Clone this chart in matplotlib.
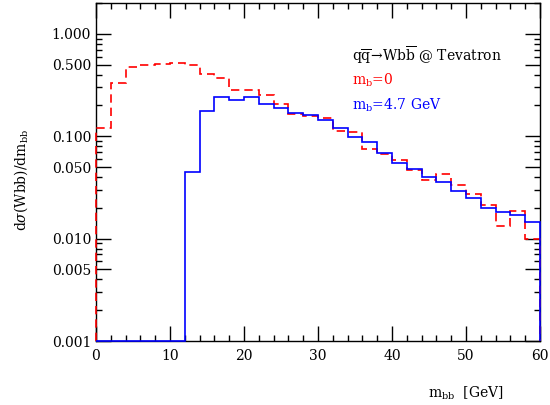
import numpy as np
import matplotlib
matplotlib.use('Agg')
import matplotlib.pyplot as plt
from matplotlib.ticker import FixedLocator, FixedFormatter, MultipleLocator

# bin edges in m_bb [GeV]
bin_edges = np.arange(0, 62, 2)

# m_b = 0 (red dashed)
dsig_mb0 = [0.119, 0.334, 0.479, 0.501, 0.513, 0.524, 0.494, 0.404, 0.371, 0.284,
            0.284, 0.250, 0.208, 0.165, 0.156, 0.151, 0.113, 0.111, 0.0746, 0.0668,
            0.0591, 0.0465, 0.0374, 0.0431, 0.0332, 0.0273, 0.0214, 0.0133, 0.0185, 0.00985]

# m_b = 4.7 GeV (blue solid)
dsig_mb47 = [0, 0, 0, 0, 0, 0, 0.0445, 0.177, 0.239, 0.226,
             0.239, 0.208, 0.189, 0.170, 0.160, 0.144, 0.119, 0.099, 0.0870, 0.069,
             0.0548, 0.0482, 0.0403, 0.0355, 0.0294, 0.0251, 0.0201, 0.0182, 0.0169, 0.0146]

y_major = [0.001, 0.005, 0.01, 0.05, 0.1, 0.5, 1.0]
y_major_labels = ['0.001', '0.005', '0.010', '0.050', '0.100', '0.500', '1.000']
y_minor = [m * d for d in [0.001, 0.01, 0.1, 1.0] for m in [2, 3, 4, 6, 7, 8, 9]]

plt.rcParams['font.family'] = 'DejaVu Serif'
plt.rcParams['mathtext.fontset'] = 'dejavuserif'

YMIN, YMAX = 0.001, 2.0

fig = plt.figure(figsize=(5.5, 4.05), dpi=100)
ax = fig.add_axes([0.1745, 0.158, 0.8073, 0.8346])

# empty bins sit on the lower frame, as in the original
ax.stairs(np.clip(dsig_mb0, YMIN, None), bin_edges, baseline=YMIN,
          color='red', linestyle=(0, (5, 3)), linewidth=1.2, clip_on=False, zorder=3)
ax.stairs(np.clip(dsig_mb47, YMIN, None), bin_edges, baseline=YMIN,
          color='blue', linewidth=1.2, clip_on=False, zorder=3)

ax.set_yscale('log')
ax.set_xlim(0, 60)
ax.set_ylim(YMIN, YMAX)

ax.xaxis.set_major_locator(MultipleLocator(10))
ax.xaxis.set_minor_locator(MultipleLocator(2))
ax.yaxis.set_major_locator(FixedLocator(y_major))
ax.yaxis.set_major_formatter(FixedFormatter(y_major_labels))
ax.yaxis.set_minor_locator(FixedLocator(y_minor))
ax.yaxis.set_minor_formatter(FixedFormatter([]))

ax.tick_params(which='both', direction='in', top=True, right=True, labelsize=10, colors='black')
ax.tick_params(which='major', length=11, width=1)
ax.tick_params(which='minor', length=4.5, width=1)
ax.tick_params(axis='x', pad=6)
for s in ax.spines.values():
    s.set_linewidth(1)

ax.text(0.577, 0.843, r'$\mathrm{q\overline{q}\!\rightarrow\! Wb\overline{b}}$ @ Tevatron',
        transform=ax.transAxes, fontsize=10, va='center', ha='left')
ax.text(0.577, 0.772, r'$\mathrm{m_b}$=0', transform=ax.transAxes,
        fontsize=10, va='center', ha='left', color='red')
ax.text(0.577, 0.698, r'$\mathrm{m_b}$=4.7 GeV', transform=ax.transAxes,
        fontsize=10, va='center', ha='left', color='blue')

fig.text(0.038, 0.556, r'd$\sigma$(Wbb)/d$\mathrm{m_{bb}}$', rotation=90,
         fontsize=10, va='center', ha='center')
fig.text(0.847, 0.03, r'$\mathrm{m_{bb}}$  [GeV]', fontsize=10, va='center', ha='center')

fig.savefig('out.png', dpi=100)
